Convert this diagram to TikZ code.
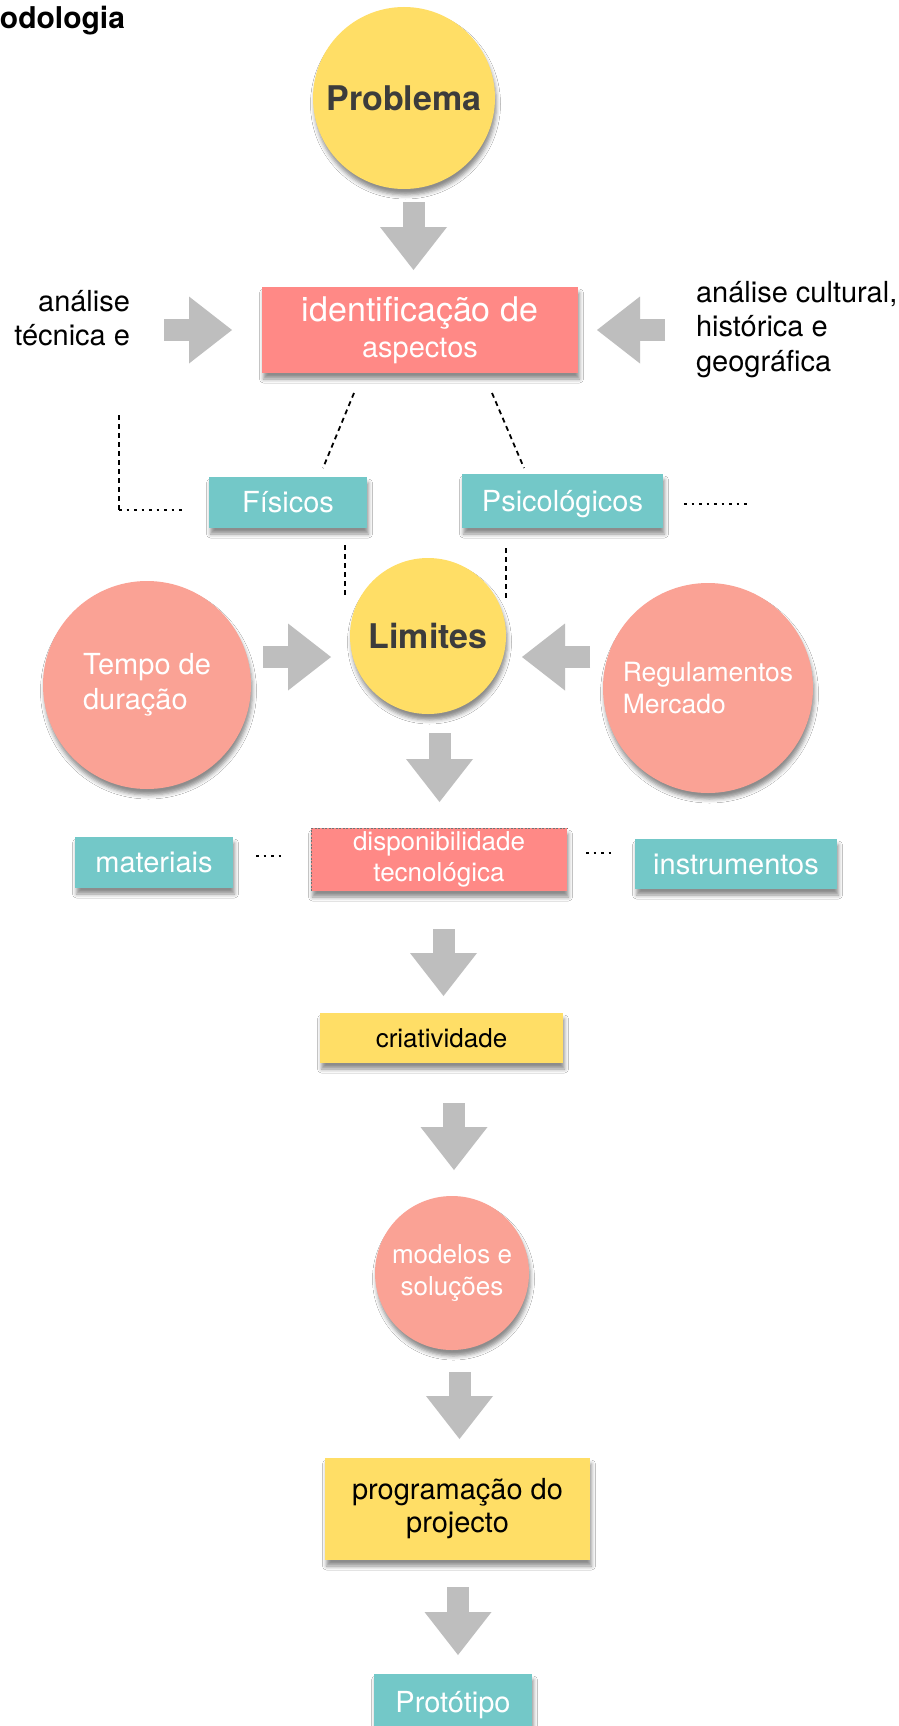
\documentclass[tikz,border=0pt]{standalone}
\usepackage{fontspec}
\setmainfont{TeX Gyre Heros}
\usetikzlibrary{arrows.meta,shadows.blur}

\definecolor{sun}{HTML}{FFDE66}
\definecolor{coral}{HTML}{FF8986}
\definecolor{salmon}{HTML}{FAA295}
\definecolor{lagoon}{HTML}{73C8C8}
\definecolor{flow}{HTML}{BEBEBE}
\definecolor{ink}{HTML}{3C3C3C}

\newcommand{\fsz}[2]{\fontsize{#1}{#2}\selectfont}

\begin{document}
\begin{tikzpicture}[x=1pt,y=-1pt,
  every node/.style={inner sep=0pt, outer sep=0pt},
  soft/.style={blur shadow={shadow xshift=1.5pt, shadow yshift=-6pt,
      shadow blur radius=4pt, shadow opacity=45}},
  card/.style={rectangle, soft, text=white, font=\fsz{29}{34},
      text height=20pt, text depth=0pt},
  bubble/.style={circle, soft, text=white, align=left},
  flowarrow/.style={draw=flow, line width=22pt,
      -{Triangle[width=67pt,length=43pt,line width=0pt]}},
  dashline/.style={line width=1.8pt, dash pattern=on 5pt off 4pt},
  dotline/.style={line width=1.8pt, dash pattern=on 2.5pt off 5pt},
]
\fill[white] (0,0) rectangle (899,1726);
\useasboundingbox (0,0) rectangle (899,1726);

% heading
\node[anchor=base east, font=\bfseries\fsz{30}{36}] (title) at (125,29) {odologia};

% upper part
\node[circle, soft, fill=sun, minimum size=182pt, font=\bfseries\fsz{34}{40}, text=ink]
  (prob) at (404,98) {Problema};
\node[rectangle, soft, fill=coral, minimum width=316pt, minimum height=86pt,
  text=white, align=center, font=\fsz{29}{36}]
  (ident) at (420,330) {{\fsz{34}{36}identificação de}\\aspectos};
\node[anchor=east, align=right, font=\fsz{29}{34}] (tech) at (130,318) {análise\\técnica e};
\node[anchor=west, align=left, font=\fsz{29}{34.5}] (cult) at (696,329.5)
  {análise cultural,\\histórica e\\geográfica};

\node[card, fill=lagoon, minimum width=158pt, minimum height=51pt] (fis) at (288,502.5) {Físicos};
\node[card, fill=lagoon, minimum width=201pt, minimum height=54pt] (psi) at (562.5,501) {Psicológicos};

% limits
\node[circle, soft, fill=sun, minimum size=156pt, font=\bfseries\fsz{34}{40}, text=ink]
  (lim) at (428,636) {Limites};
\node[bubble, fill=salmon, minimum size=208pt, font=\fsz{29}{35}] (tempo) at (147,685) {Tempo de\\duração};
\node[bubble, fill=salmon, minimum size=210pt, font=\fsz{26.5}{32}] (reg) at (708,688) {Regulamentos\\Mercado};

% technology row
\node[rectangle, soft, fill=coral, minimum width=256pt, minimum height=63pt,
  text=white, align=center, font=\fsz{26}{31}]
  (disp) at (439,859.5) {disponibilidade\\tecnológica};
\draw[black!55, line width=1pt, dash pattern=on 2pt off 1.5pt]
  (disp.south west) -- (disp.north west) -- (disp.north east);
\node[card, fill=lagoon, minimum width=158pt, minimum height=51pt] (mat) at (154,862.5) {materiais};
\node[card, fill=lagoon, minimum width=202pt, minimum height=50pt] (ins) at (736,864) {instrumentos};

% lower chain
\node[card, fill=sun, text=black, font=\fsz{26}{31}, text height=18pt,
  minimum width=243pt, minimum height=50pt] (cri) at (441.5,1038) {criatividade};
\node[bubble, align=center, fill=salmon, minimum size=154pt, font=\fsz{26}{32}]
  (mod) at (452,1273) {modelos e\\soluções};
\node[rectangle, soft, fill=sun, minimum width=265pt, minimum height=102pt,
  align=center, font=\fsz{29}{33}] (prog) at (457.5,1509) {programação do\\projecto};
\node[card, fill=lagoon, minimum width=158pt, minimum height=56pt] (proto) at (453,1702) {Protótipo};

% arrow end points
\coordinate (a1s) at (413.5,202);  \coordinate (a1e) at (413.5,270);
\coordinate (a2s) at (439.5,733);  \coordinate (a2e) at (439.5,802);
\coordinate (a3s) at (443.5,929);  \coordinate (a3e) at (443.5,996);
\coordinate (a4s) at (454,1103);   \coordinate (a4e) at (454,1170);
\coordinate (a5s) at (459.5,1372); \coordinate (a5e) at (459.5,1439);
\coordinate (a6s) at (458,1587);   \coordinate (a6e) at (458,1655);
\coordinate (h1s) at (164,330);    \coordinate (h1e) at (232,330);
\coordinate (h2s) at (665,330);    \coordinate (h2e) at (597,330);
\coordinate (h3s) at (263,657);    \coordinate (h3e) at (331,657);
\coordinate (h4s) at (590,657);    \coordinate (h4e) at (522,657);

\foreach \s/\e in {a1s/a1e,a2s/a2e,a3s/a3e,a4s/a4e,a5s/a5e,a6s/a6e,
                   h1s/h1e,h2s/h2e,h3s/h3e,h4s/h4e}
  \draw[flowarrow] (\s) -- (\e);

% dashed links
\coordinate (d1a) at (354,393); \coordinate (d1b) at (323,468);
\coordinate (d2a) at (492,393); \coordinate (d2b) at (524,468);
\coordinate (d3a) at (119,415); \coordinate (d3b) at (119,510); \coordinate (d3c) at (186,510);
\coordinate (d4a) at (684,504); \coordinate (d4b) at (751,504);
\coordinate (d5a) at (345,545); \coordinate (d5b) at (345,597);
\coordinate (d6a) at (506,548); \coordinate (d6b) at (506,601);
\coordinate (d7a) at (256,856); \coordinate (d7b) at (284,856);
\coordinate (d8a) at (586,853); \coordinate (d8b) at (614,853);

\draw[dashline] (d1a) -- (d1b);
\draw[dashline] (d2a) -- (d2b);
\draw[dashline] (d3a) -- (d3b);
\draw[dotline] (d3b) -- (d3c);
\draw[dotline] (d4a) -- (d4b);
\draw[dashline] (d5a) -- (d5b);
\draw[dashline] (d6a) -- (d6b);
\draw[dotline] (d7a) -- (d7b);
\draw[dotline] (d8a) -- (d8b);
\end{tikzpicture}
\end{document}
